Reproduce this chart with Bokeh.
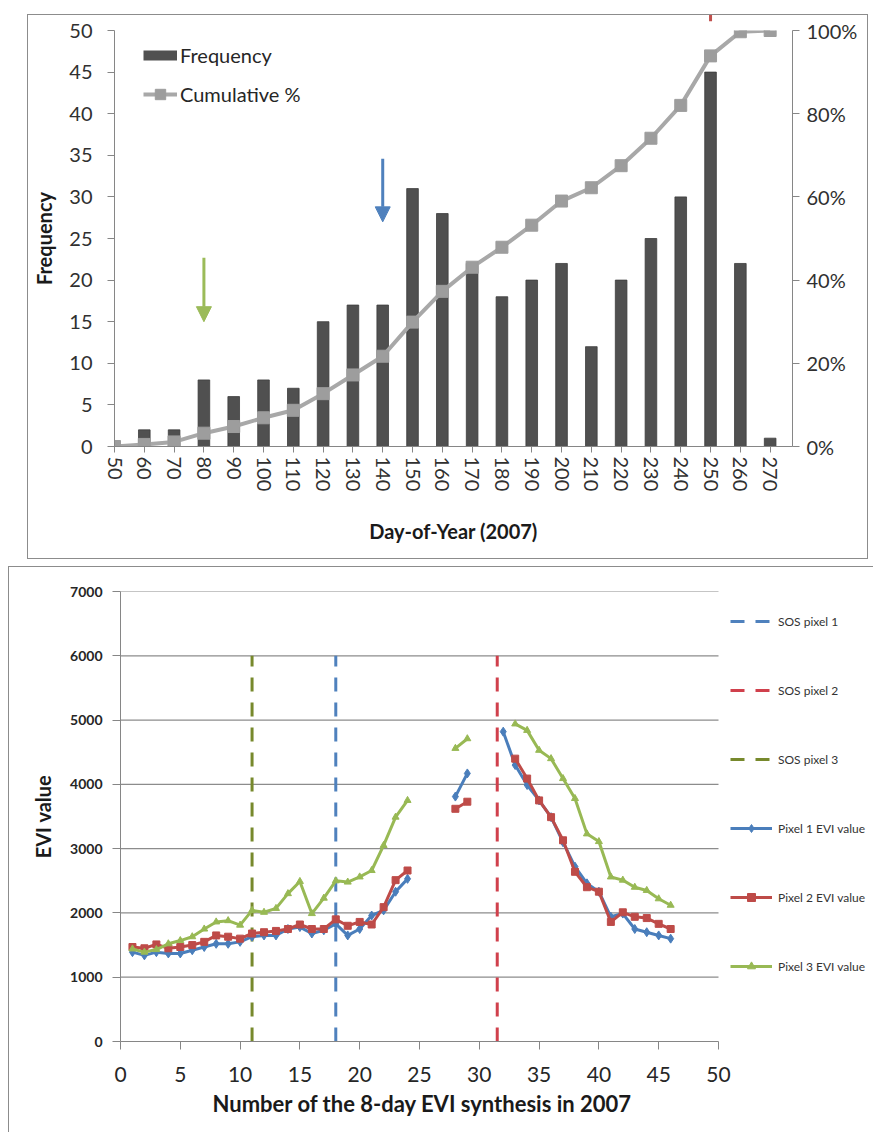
import math
from bokeh.plotting import figure
from bokeh.models import (Range1d, LinearAxis, FixedTicker, SingleIntervalTicker,
                          PrintfTickFormatter, Arrow, NormalHead, Legend, LegendItem, Title)
from bokeh.embed import file_html
from bokeh.resources import INLINE

nan = float("nan")

# ---------------- top chart data ----------------
days = [50, 60, 70, 80, 90, 100, 110, 120, 130, 140, 150, 160, 170, 180, 190,
        200, 210, 220, 230, 240, 250, 260, 270]
frequency = [0, 2, 2, 8, 6, 8, 7, 15, 17, 17, 31, 28, 22, 18, 20, 22, 12, 20,
             25, 30, 45, 22, 1]
cumulative_pct = [0, 0.5, 1.1, 3.2, 4.8, 6.9, 8.7, 12.7, 17.2, 21.7, 29.9, 37.3,
                  43.1, 47.9, 53.2, 59.0, 62.2, 67.5, 74.1, 82.0, 93.9, 99.7, 100]
pct_ticks = [0, 20, 40, 60, 80, 100]
arrow_days = [80, 140, 250]
arrow_from = [22.7, 34.6, 53.5]
arrow_to = [15.0, 27.0, 51.1]
arrow_colors = ["#9bbb59", "#4f81bd", "#c0504d"]

# ---------------- bottom chart data ----------------
synthesis = list(range(1, 47))
pixel1 = [1390, 1340, 1390, 1370, 1370, 1420, 1470, 1520, 1520, 1550, 1630, 1650,
          1650, 1750, 1780, 1680, 1730, 1830, 1650, 1750, 1960, 2040, 2330, 2530,
          nan, nan, nan, 3810, 4170, nan, nan,
          4820, 4300, 3990, 3750, 3490, 3100, 2720, 2460, 2330, 1940, 1990, 1750,
          1700, 1650, 1600]
pixel2 = [1470, 1450, 1510, 1450, 1470, 1500, 1550, 1650, 1630, 1600, 1680, 1700,
          1720, 1750, 1820, 1750, 1750, 1900, 1800, 1860, 1820, 2090, 2510, 2660,
          nan, nan, nan, 3620, 3730, nan, nan,
          nan, 4400, 4090, 3750, 3490, 3130, 2640, 2400, 2330, 1860, 2010, 1940,
          1920, 1830, 1750]
pixel3 = [1440, 1390, 1430, 1520, 1570, 1630, 1750, 1860, 1880, 1810, 2040, 2010,
          2070, 2300, 2490, 1990, 2230, 2500, 2480, 2560, 2660, 3050, 3490, 3750,
          nan, nan, nan, 4560, 4710, nan, nan,
          nan, 4940, 4840, 4530, 4400, 4090, 3780, 3230, 3110, 2560, 2510, 2400,
          2350, 2220, 2120]
sos_labels = ["SOS pixel 1", "SOS pixel 2", "SOS pixel 3"]
sos_x = [18, 31.5, 11]
sos_top = 6000
sos_colors = ["#4f81bd", "#d0404c", "#77892c"]
pixel_labels = ["Pixel 1 EVI value", "Pixel 2 EVI value", "Pixel 3 EVI value"]
pixel_colors = ["#4a7ebb", "#be4b48", "#98b954"]
pixel_markers = ["diamond", "square", "triangle"]
pixel_sizes = [9, 7, 7]
x_ticks = [0, 5, 10, 15, 20, 25, 30, 35, 40, 45, 50]
y_ticks = [0, 1000, 2000, 3000, 4000, 5000, 6000, 7000]
x_max, y_max = 50, 7000

FONT = "Lato"
AX = "#868686"
BOX = "1px solid #8c8c8c"
BAR = "#505050"

# ================= TOP CHART =================
W1, H1 = 841, 545
L1, R1, T1, B1 = 86, 77, 15, 114
p1 = figure(width=W1, height=H1, x_range=Range1d(50, 277.5), y_range=Range1d(0, 50),
            output_backend="svg", toolbar_location=None,
            min_border_left=L1, min_border_right=R1, min_border_top=T1,
            min_border_bottom=B1, margin=(14, 0, 0, 27),
            styles={"border": BOX})
p1.extra_y_ranges = {"pct": Range1d(0, 100)}
p1.outline_line_color = None
p1.grid.visible = False

bars = p1.vbar(x=days, top=frequency, width=3.9, fill_color=BAR, line_color="#3c3c3c",
               line_width=0.8)
cum_line = p1.line(days, cumulative_pct, y_range_name="pct", line_color="#a8a8a8", line_width=4)
cum_pts = p1.scatter(days, cumulative_pct, y_range_name="pct", marker="square", size=12,
                     fill_color="#9d9d9d", line_color="#9d9d9d")
# legend swatch for the bars (a thick dark stroke, like the reference's flat swatch)
bar_swatch = p1.line(x=[nan], y=[nan], line_color=BAR, line_width=10, line_cap="butt")

for d, f, t, c in zip(arrow_days, arrow_from, arrow_to, arrow_colors):
    p1.add_layout(Arrow(x_start=d, y_start=f, x_end=d, y_end=t, line_color=c, line_width=3,
                        end=NormalHead(size=15, fill_color=c, line_color=c)))

xa = p1.xaxis[0]
xa.ticker = FixedTicker(ticks=days)
xa.major_label_orientation = "vertical"
xa.axis_label = "Day-of-Year (2007)"
ya = p1.yaxis[0]
ya.ticker = SingleIntervalTicker(interval=5)
ya.axis_label = "Frequency"

ra = LinearAxis(y_range_name="pct", ticker=FixedTicker(ticks=pct_ticks),
                formatter=PrintfTickFormatter(format="%d%%"))
p1.add_layout(ra, "right")

for ax in [xa, ya, ra]:
    ax.axis_line_color = AX
    ax.major_tick_line_color = AX
    ax.major_tick_in = 0
    ax.minor_tick_line_color = None
    ax.major_label_text_font = FONT
    ax.major_label_text_font_size = "20px"
    ax.major_label_text_color = "#303030"
    ax.axis_label_text_font = FONT
    ax.axis_label_text_font_size = "20px"
    ax.axis_label_text_font_style = "bold"
    ax.axis_label_text_color = "#1a1a1a"
xa.major_tick_out = 6
xa.major_label_standoff = 4
xa.axis_label_standoff = 25
ya.major_tick_out = 7
ya.major_label_standoff = 15
ya.axis_label_standoff = 10
ra.major_tick_out = 7
ra.major_label_standoff = 7

leg1 = Legend(items=[LegendItem(label="Frequency", renderers=[bar_swatch]),
                     LegendItem(label="Cumulative %", renderers=[cum_line, cum_pts])],
              location=(29, 339), glyph_width=34, glyph_height=26, label_height=26,
              spacing=13, padding=0, margin=0, border_line_color=None,
              background_fill_alpha=0, label_text_font=FONT, label_text_font_size="20px",
              label_text_color="#262626", label_standoff=3)
p1.add_layout(leg1)

# ================= BOTTOM CHART =================
W2, H2 = 865, 566
L2, R2, T2, B2 = 111, 0, 24, 92
PLOT_W = 598                      # pixel width of the 0..50 data span
FW2 = W2 - L2 - R2                # frame (includes legend area on the right)
p2 = figure(width=W2, height=H2, x_range=Range1d(0, x_max * FW2 / PLOT_W),
            y_range=Range1d(0, y_max),
            output_backend="svg", toolbar_location=None,
            min_border_left=L2, min_border_right=R2, min_border_top=T2,
            min_border_bottom=B2, margin=(7, 0, 0, 8),
            styles={"border-left": BOX, "border-top": BOX})
p2.outline_line_color = None
p2.grid.visible = False

# horizontal gridlines only over the 0..50 data span
p2.segment(x0=[0] * (len(y_ticks) - 1), x1=[x_max] * (len(y_ticks) - 1),
           y0=y_ticks[1:], y1=y_ticks[1:], line_color="#8c8c8c", line_width=1.2)

items = []
for lab, xs, col in zip(sos_labels, sos_x, sos_colors):
    r = p2.segment(x0=[xs], y0=[0], x1=[xs], y1=[sos_top], line_color=col, line_width=3,
                   line_dash="14 11")
    items.append(LegendItem(label=lab, renderers=[r]))
for lab, ys, col, mk, sz in zip(pixel_labels, [pixel1, pixel2, pixel3], pixel_colors,
                                pixel_markers, pixel_sizes):
    ln = p2.line(synthesis, ys, line_color=col, line_width=3)
    sc = p2.scatter(synthesis, ys, marker=mk, size=sz, fill_color=col, line_color=col)
    items.append(LegendItem(label=lab, renderers=[ln, sc]))

bx = p2.xaxis[0]
bx.ticker = FixedTicker(ticks=x_ticks)
bx.bounds = (0, x_max)
by = p2.yaxis[0]
by.ticker = FixedTicker(ticks=y_ticks)
by.axis_label = "EVI value"
for ax in [bx, by]:
    ax.axis_line_color = AX
    ax.major_tick_line_color = AX
    ax.major_tick_in = 0
    ax.major_tick_out = 8
    ax.minor_tick_line_color = None
    ax.major_label_text_font = FONT
    ax.major_label_text_color = "#262626"
    ax.axis_label_text_font = FONT
    ax.axis_label_text_font_style = "bold"
    ax.axis_label_text_color = "#1a1a1a"
bx.major_label_text_font_size = "21px"
bx.major_label_standoff = 17
by.major_label_text_font_size = "14px"
by.major_label_text_font_style = "bold"
by.major_label_standoff = 10
by.axis_label_text_font_size = "20px"
by.axis_label_standoff = 12

# x-axis title, centred under the 0..50 span (the frame also holds the legend)
p2.add_layout(Title(text="Number of the 8-day EVI synthesis in 2007", align="left",
                    offset=92, standoff=6, text_font=FONT, text_font_size="22px",
                    text_font_style="bold", text_color="#1a1a1a"), "below")

leg2 = Legend(items=items, location=(PLOT_W + 12, 65), glyph_width=42, glyph_height=20,
              label_height=20, spacing=49, padding=0, margin=0, border_line_color=None,
              background_fill_alpha=0, label_text_font=FONT, label_text_font_size="12px",
              label_text_color="#333333", label_standoff=6)
p2.add_layout(leg2)

open("out.html", "w").write(file_html([p1, p2], INLINE))
